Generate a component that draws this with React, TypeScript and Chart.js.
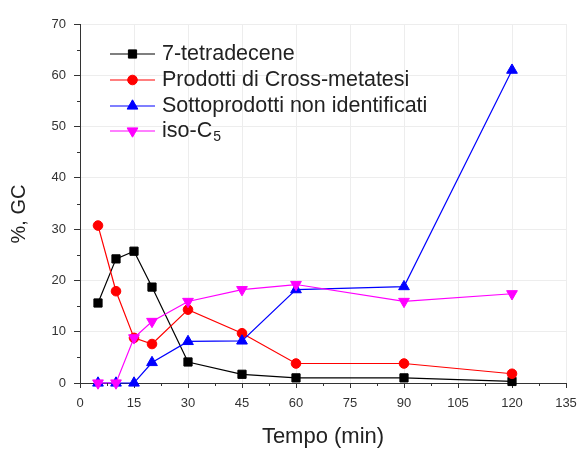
import React, { useEffect, useRef } from "react";
import { Chart, registerables } from "chart.js";
import { drawPoint } from "chart.js/helpers";

Chart.register(...registerables);

// Reaction time (min)
const times = [5, 10, 15, 20, 30, 45, 60, 90, 120];

// GC area percentages per product family
const tetradecene = [15.6, 24.2, 25.7, 18.7, 4.1, 1.7, 1.0, 1.0, 0.3];
const crossMetatesi = [30.7, 17.9, 8.8, 7.6, 14.3, 9.7, 3.8, 3.8, 1.8];
const sottoprodotti = [0, 0, 0, 4.0, 8.1, 8.2, 18.2, 18.8, 61.0];
const isoC5 = [0, 0, 8.8, 12.0, 15.9, 18.2, 19.2, 15.9, 17.4];

const seriesNames = ["7-tetradecene", "Prodotti di Cross-metatesi", "Sottoprodotti non identificati", "iso-C_5"];
const seriesColors = ["#000000", "#ff0000", "#0000ff", "#ff00ff"];

const xTitle = "Tempo (min)";
const yTitle = "%, GC";

const FONT = "'Liberation Sans', Arial, sans-serif";

const toPoints = (vals: number[]) => vals.map((v, i) => ({ x: times[i], y: v }));

// Minor ticks, axis titles and the in-plot legend
const decorPlugin = {
  id: "decor",
  afterDraw(chart: any) {
    const { ctx, chartArea, scales } = chart;
    const xs = scales.x;
    const ys = scales.y;
    ctx.save();
    ctx.strokeStyle = "#333";
    ctx.lineWidth = 1;
    // minor ticks
    ctx.beginPath();
    for (let v = 7.5; v < 135; v += 15) {
      const px = Math.round(xs.getPixelForValue(v)) + 0.5;
      ctx.moveTo(px, chartArea.bottom);
      ctx.lineTo(px, chartArea.bottom + 3);
    }
    for (let v = 5; v < 70; v += 10) {
      const py = Math.round(ys.getPixelForValue(v)) + 0.5;
      ctx.moveTo(chartArea.left, py);
      ctx.lineTo(chartArea.left - 3, py);
    }
    ctx.stroke();

    // axis titles
    ctx.fillStyle = "#222";
    ctx.textAlign = "center";
    ctx.textBaseline = "middle";
    ctx.font = `22px ${FONT}`;
    ctx.fillText(xTitle, (chartArea.left + chartArea.right) / 2, 437);
    ctx.save();
    ctx.translate(19, 214);
    ctx.rotate(-Math.PI / 2);
    ctx.font = `20px ${FONT}`;
    ctx.fillText(yTitle, 0, 0);
    ctx.restore();

    // legend
    const rowY = [54, 80, 106, 131];
    chart.data.datasets.forEach((ds: any, i: number) => {
      const y = rowY[i];
      ctx.strokeStyle = ds.borderColor;
      ctx.lineWidth = 1.2;
      ctx.beginPath();
      ctx.moveTo(110, y);
      ctx.lineTo(155, y);
      ctx.stroke();
      ctx.fillStyle = ds.pointBackgroundColor;
      ctx.strokeStyle = ds.borderColor;
      ctx.lineWidth = 1;
      drawPoint(ctx, { pointStyle: ds.pointStyle, rotation: ds.pointRotation || 0, radius: ds.pointRadius, borderWidth: 1 }, 132.5, y);
      ctx.fillStyle = "#222";
      ctx.textAlign = "left";
      ctx.textBaseline = "middle";
      const [base, sub] = String(ds.label).split("_");
      ctx.font = `21.5px ${FONT}`;
      ctx.fillText(base, 162, y);
      if (sub) {
        const w = ctx.measureText(base).width;
        ctx.font = `14px ${FONT}`;
        ctx.fillText(sub, 162 + w + 1, y + 6);
      }
    });
    ctx.restore();
  },
};

export default function App() {
  const canvasRef = useRef<HTMLCanvasElement | null>(null);

  useEffect(() => {
    if (!canvasRef.current) return;
    const styles = [
      { pointStyle: "rect", pointRadius: 5.8, rotation: 0 },
      { pointStyle: "circle", pointRadius: 4.8, rotation: 0 },
      { pointStyle: "triangle", pointRadius: 6.2, rotation: 0 },
      { pointStyle: "triangle", pointRadius: 6.2, rotation: 180 },
    ];
    const values = [tetradecene, crossMetatesi, sottoprodotti, isoC5];
    const chart = new Chart(canvasRef.current, {
      type: "line",
      data: {
        datasets: values.map((vals, i) => ({
          label: seriesNames[i],
          data: toPoints(vals),
          borderColor: seriesColors[i],
          backgroundColor: seriesColors[i],
          pointBackgroundColor: seriesColors[i],
          pointBorderColor: seriesColors[i],
          pointBorderWidth: 1,
          pointStyle: styles[i].pointStyle as any,
          pointRotation: styles[i].rotation,
          pointRadius: styles[i].pointRadius,
          borderWidth: 1.2,
          tension: 0,
          fill: false,
          order: 3 - i,
          clip: false as any,
        })),
      },
      options: {
        animation: false,
        responsive: false,
        layout: { padding: { top: 24, right: 16, left: 0, bottom: 0 } },
        plugins: { legend: { display: false }, tooltip: { enabled: false } },
        scales: {
          x: {
            type: "linear",
            min: 0,
            max: 135,
            afterFit: (s: any) => { s.height = 67; s.paddingRight = 0; },
            ticks: { stepSize: 15, padding: 8, color: "#333", font: { family: FONT, size: 13 } },
            grid: { color: "#ededed", lineWidth: 1, drawTicks: true, tickLength: 5, tickColor: "#333", tickWidth: 1 },
            border: { display: true, color: "#333", width: 1 },
          },
          y: {
            min: 0,
            max: 70,
            afterFit: (s: any) => { s.width = 80; },
            ticks: { stepSize: 10, padding: 8, color: "#333", font: { family: FONT, size: 13 } },
            grid: { color: "#ededed", lineWidth: 1, drawTicks: true, tickLength: 6, tickColor: "#333", tickWidth: 1 },
            border: { display: true, color: "#333", width: 1 },
          },
        },
      },
      plugins: [decorPlugin],
    });
    return () => chart.destroy();
  }, []);

  return (
    <div style={{ position: "fixed", left: 0, top: 0, width: 582, height: 450, background: "#fff" }}>
      <canvas ref={canvasRef} width={582} height={450} style={{ display: "block" }} />
    </div>
  );
}
